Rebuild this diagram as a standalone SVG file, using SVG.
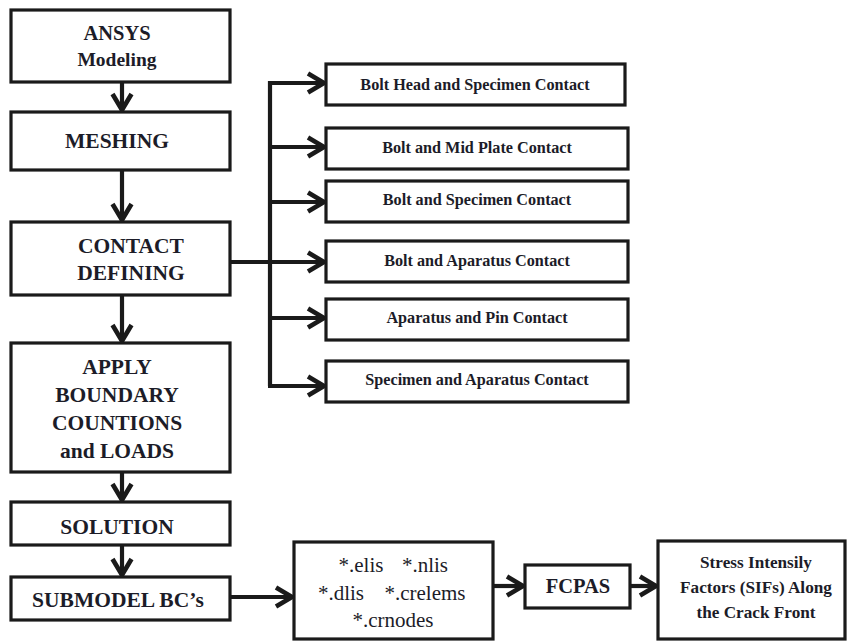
<svg xmlns="http://www.w3.org/2000/svg" width="848" height="641" viewBox="0 0 848 641">
<style>
.box{fill:#fff;stroke:#1a1a1a;stroke-width:3.2}
.ln{fill:none;stroke:#1a1a1a;stroke-width:4.2}
</style>
<defs>
<marker id="ah" markerUnits="userSpaceOnUse" viewBox="0 0 24 24" refX="20" refY="12" markerWidth="24" markerHeight="24" orient="auto">
<path d="M3,2.5 L19,12 L3,21.5" fill="none" stroke="#1a1a1a" stroke-width="4.6" stroke-linejoin="miter"/>
</marker>
</defs>
<rect width="848" height="641" fill="#fff"/>
<g id="connectors">
<line class="ln" x1="122" y1="82" x2="122" y2="111" marker-end="url(#ah)"/>
<line class="ln" x1="122" y1="170" x2="122" y2="221" marker-end="url(#ah)"/>
<line class="ln" x1="122" y1="295" x2="122" y2="342" marker-end="url(#ah)"/>
<line class="ln" x1="122" y1="472" x2="122" y2="501" marker-end="url(#ah)"/>
<line class="ln" x1="122" y1="545" x2="122" y2="576" marker-end="url(#ah)"/>
<line class="ln" x1="230" y1="262" x2="270" y2="262"/>
<path class="ln" d="M270,386 L270,83 L325,83" marker-end="url(#ah)"/>
<line class="ln" x1="268" y1="386" x2="325" y2="386" marker-end="url(#ah)"/>
<line class="ln" x1="270" y1="147" x2="325" y2="147" marker-end="url(#ah)"/>
<line class="ln" x1="270" y1="202" x2="325" y2="202" marker-end="url(#ah)"/>
<line class="ln" x1="270" y1="262" x2="325" y2="262" marker-end="url(#ah)"/>
<line class="ln" x1="270" y1="318" x2="325" y2="318" marker-end="url(#ah)"/>
<line class="ln" x1="230" y1="597" x2="293" y2="597" marker-end="url(#ah)"/>
<line class="ln" x1="493" y1="586" x2="524" y2="586" marker-end="url(#ah)"/>
<line class="ln" x1="630" y1="586" x2="657" y2="586" marker-end="url(#ah)"/>
</g>
<g id="ansys"><rect class="box" x="11" y="10" width="219" height="72"/>
<text font-family="Liberation Serif" font-size="20.5" font-weight="bold" text-anchor="middle" fill="#1c1c28" x="117" y="40">ANSYS</text>
<text font-family="Liberation Serif" font-size="19.5" font-weight="bold" text-anchor="middle" fill="#1c1c28" x="117" y="66">Modeling</text></g>
<g id="meshing"><rect class="box" x="11" y="112" width="219" height="58"/>
<text font-family="Liberation Serif" font-size="21.5" font-weight="bold" text-anchor="middle" fill="#1c1c28" x="117" y="148">MESHING</text></g>
<g id="contact"><rect class="box" x="11" y="222" width="219" height="73"/>
<text font-family="Liberation Serif" font-size="21.5" font-weight="bold" text-anchor="middle" fill="#1c1c28" x="131" y="253">CONTACT</text>
<text font-family="Liberation Serif" font-size="21.5" font-weight="bold" text-anchor="middle" fill="#1c1c28" x="131" y="280">DEFINING</text></g>
<g id="apply"><rect class="box" x="11" y="343" width="219" height="129"/>
<text font-family="Liberation Serif" font-size="21.5" font-weight="bold" text-anchor="middle" fill="#1c1c28" x="117" y="374">APPLY</text>
<text font-family="Liberation Serif" font-size="21.5" font-weight="bold" text-anchor="middle" fill="#1c1c28" x="117" y="402">BOUNDARY</text>
<text font-family="Liberation Serif" font-size="21.5" font-weight="bold" text-anchor="middle" fill="#1c1c28" x="117" y="430">COUNTIONS</text>
<text font-family="Liberation Serif" font-size="21.5" font-weight="bold" text-anchor="middle" fill="#1c1c28" x="117" y="458">and LOADS</text></g>
<g id="solution"><rect class="box" x="11" y="502" width="219" height="43"/>
<text font-family="Liberation Serif" font-size="21.5" font-weight="bold" text-anchor="middle" fill="#1c1c28" x="117" y="534">SOLUTION</text></g>
<g id="submodel"><rect class="box" x="11" y="577" width="219" height="43"/>
<text font-family="Liberation Serif" font-size="21.5" font-weight="bold" text-anchor="middle" fill="#1c1c28" x="118" y="607">SUBMODEL BC’s</text></g>
<g id="c1"><rect class="box" x="326" y="64" width="299" height="41"/>
<text font-family="Liberation Serif" font-size="16.2" font-weight="bold" text-anchor="middle" fill="#1c1c28" x="475" y="90">Bolt Head and Specimen Contact</text></g>
<g id="c2"><rect class="box" x="326" y="128" width="302" height="41"/>
<text font-family="Liberation Serif" font-size="16.2" font-weight="bold" text-anchor="middle" fill="#1c1c28" x="477" y="153">Bolt and Mid Plate Contact</text></g>
<g id="c3"><rect class="box" x="326" y="181" width="302" height="41"/>
<text font-family="Liberation Serif" font-size="16.2" font-weight="bold" text-anchor="middle" fill="#1c1c28" x="477" y="205">Bolt and Specimen Contact</text></g>
<g id="c4"><rect class="box" x="326" y="241" width="302" height="41"/>
<text font-family="Liberation Serif" font-size="16.2" font-weight="bold" text-anchor="middle" fill="#1c1c28" x="477" y="266">Bolt and Aparatus Contact</text></g>
<g id="c5"><rect class="box" x="326" y="299" width="302" height="41"/>
<text font-family="Liberation Serif" font-size="16.2" font-weight="bold" text-anchor="middle" fill="#1c1c28" x="477" y="323">Aparatus and Pin Contact</text></g>
<g id="c6"><rect class="box" x="326" y="361" width="302" height="41"/>
<text font-family="Liberation Serif" font-size="16.2" font-weight="bold" text-anchor="middle" fill="#1c1c28" x="477" y="385">Specimen and Aparatus Contact</text></g>
<g id="files"><rect class="box" x="294" y="542" width="199" height="97"/>
<text font-family="Liberation Serif" font-size="21" text-anchor="middle" fill="#1c1c28" x="361" y="572">*.elis</text>
<text font-family="Liberation Serif" font-size="21" text-anchor="middle" fill="#1c1c28" x="425" y="572">*.nlis</text>
<text font-family="Liberation Serif" font-size="21" text-anchor="middle" fill="#1c1c28" x="341" y="600">*.dlis</text>
<text font-family="Liberation Serif" font-size="21" text-anchor="middle" fill="#1c1c28" x="425" y="600">*.crelems</text>
<text font-family="Liberation Serif" font-size="21" text-anchor="middle" fill="#1c1c28" x="393" y="627">*.crnodes</text></g>
<g id="fcpas"><rect class="box" x="525" y="565" width="105" height="43"/>
<text font-family="Liberation Serif" font-size="20.5" font-weight="bold" text-anchor="middle" fill="#1c1c28" x="578" y="593">FCPAS</text></g>
<g id="sif"><rect class="box" x="658" y="541" width="187" height="98"/>
<text font-family="Liberation Serif" font-size="17.2" font-weight="bold" text-anchor="middle" fill="#1c1c28" x="756" y="568">Stress Intensily</text>
<text font-family="Liberation Serif" font-size="17.2" font-weight="bold" text-anchor="middle" fill="#1c1c28" x="756" y="593">Factors (SIFs) Along</text>
<text font-family="Liberation Serif" font-size="17.2" font-weight="bold" text-anchor="middle" fill="#1c1c28" x="756" y="618">the Crack Front</text></g>
</svg>
